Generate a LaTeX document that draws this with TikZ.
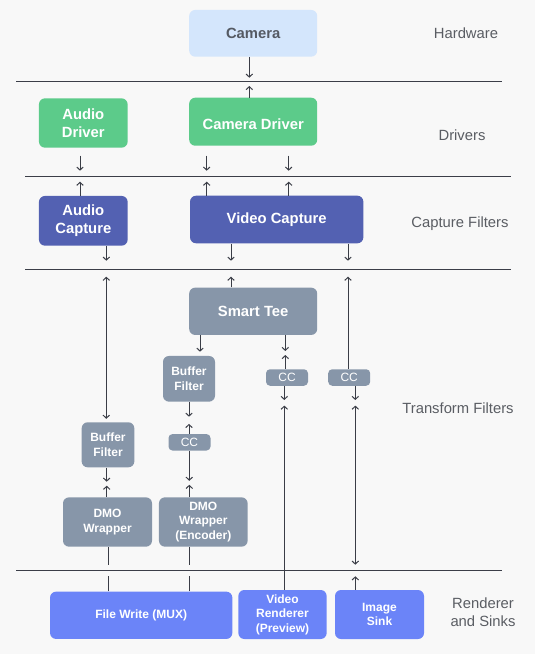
\documentclass[tikz,border=0pt]{standalone}
\usepackage{fontspec}
\setmainfont{Liberation Sans}
\usetikzlibrary{arrows.meta}
\definecolor{bgc}{HTML}{F8F8F8}
\definecolor{camblue}{HTML}{D4E6FC}
\definecolor{camtext}{HTML}{555A63}
\definecolor{drvgreen}{HTML}{5CCB8A}
\definecolor{capblue}{HTML}{5361B2}
\definecolor{filtgray}{HTML}{8796A9}
\definecolor{sinkblue}{HTML}{6B84F8}
\definecolor{labgray}{HTML}{5A5D63}
\definecolor{sepc}{HTML}{3B3E48}
\definecolor{linec}{HTML}{3A3D46}

\begin{document}
\begin{tikzpicture}[
    x=1pt, y=-1pt,
    >={Straight Barb[length=3pt,width=6.5pt]},
    every node/.style={inner sep=0pt, align=center},
    big/.style={rounded corners=6pt, text=white, font=\bfseries\fontsize{14.8}{18}\selectfont},
    small/.style={rounded corners=6pt, text=white, fill=filtgray, font=\bfseries\fontsize{12}{14.5}\selectfont},
    cc/.style={rounded corners=4pt, text=white, fill=filtgray, font=\fontsize{12}{14}\selectfont, minimum width=42pt, minimum height=16.5pt},
    layer/.style={text=labgray, font=\fontsize{14.8}{18}\selectfont},
    sep/.style={line width=1pt, draw=sepc},
    arr/.style={line width=1pt, draw=linec, ->},
    link/.style={line width=0.9pt, draw=linec},
]
    \fill[bgc] (0,0) rectangle (535,654);

    \node[big, fill=camblue, text=camtext, minimum width=128pt, minimum height=46.7pt] (cam) at (253.2,33.3) {Camera};
    \node[big, fill=drvgreen, minimum width=88.7pt, minimum height=49.3pt] (adrv) at (83.3,123) {Audio\\Driver};
    \node[big, fill=drvgreen, minimum width=128pt, minimum height=48pt, text height=16.5pt, text depth=0pt] (cdrv) at (253.2,121.7) {Camera Driver};
    \node[big, fill=capblue, minimum width=88.7pt, minimum height=49.7pt] (acap) at (83.3,220.8) {Audio\\Capture};
    \node[big, fill=capblue, minimum width=173.3pt, minimum height=47.6pt] (vcap) at (276.7,219.5) {Video Capture};
    \node[big, fill=filtgray, minimum width=128pt, minimum height=47.3pt] (tee) at (253.2,311.3) {Smart Tee};
    \node[small, minimum width=52pt, minimum height=45.7pt] (bufm) at (189,378.8) {Buffer\\Filter};
    \node[cc] (ccm) at (287,377.5) {CC};
    \node[cc] (ccr) at (349.2,377.5) {CC};
    \node[small, minimum width=52.7pt, minimum height=45pt] (bufl) at (108,444.8) {Buffer\\Filter};
    \node[cc] (ccl) at (189.5,442.3) {CC};
    \node[small, minimum width=89pt, minimum height=49.3pt] (dmo) at (107.5,522) {DMO\\Wrapper};
    \node[small, minimum width=88.7pt, minimum height=49.3pt] (dmoe) at (203.3,522) {DMO\\Wrapper\\(Encoder)};
    \node[small, fill=sinkblue, minimum width=182.3pt, minimum height=47.3pt] (fw) at (141.2,615.3) {File Write (MUX)};
    \node[small, fill=sinkblue, minimum width=88.3pt, minimum height=49pt] (vr) at (282.5,614.5) {Video\\Renderer\\(Preview)};
    \node[small, fill=sinkblue, minimum width=89pt, minimum height=49pt] (sink) at (379.5,614.5) {Image\\Sink};

    \node[layer] (hw) at (466,33) {Hardware};
    \node[layer] (drv) at (462,135.5) {Drivers};
    \node[layer] (capf) at (460,223.8) {Capture Filters};
    \node[layer] (trf) at (458,408) {Transform Filters};
    \node[layer] (rs) at (483,612) {Renderer\\and Sinks};

    \draw[sep] (16,81) -- (501.7,81);
    \draw[sep] (25,176) -- (511,176);
    \draw[sep] (25,269) -- (511,269);
    \draw[sep] (16,570.3) -- (501.7,570.3);

    \coordinate (c1) at (249.3,81);
    \coordinate (c2) at (80,176);
    \coordinate (c3) at (206.7,176);
    \coordinate (c4) at (288.7,176);
    \coordinate (c5) at (106.3,269);
    \coordinate (c6) at (231,269);
    \coordinate (c7) at (348,269);
    \coordinate (c8) at (108.3,570.3);
    \coordinate (c9) at (189.3,570.3);
    \coordinate (c10) at (355.3,570.3);
    \coordinate (m0) at (200,351.7);
    \coordinate (m1) at (285.3,353);
    \coordinate (m2) at (284.3,402.8);
    \coordinate (m3) at (355.3,402.8);
    \coordinate (m4) at (189,420.3);
    \coordinate (m5) at (106.7,483.7);
    \coordinate (m6) at (189.3,482.8);

    \draw[arr] (cam.south -| c1) -- ([yshift=3.3pt]c1);
    \draw[arr] (cdrv.north -| c1) -- ([yshift=-5pt]c1);
    \draw[arr] ([yshift=20.3pt]c2) -- ([yshift=5.3pt]c2);
    \draw[arr] ([yshift=20.3pt]c3) -- ([yshift=5.3pt]c3);
    \draw[arr] ([yshift=20.3pt]c4) -- ([yshift=5.3pt]c4);
    \draw[arr] (acap.north -| c2) -- ([yshift=-5.7pt]c2);
    \draw[arr] (vcap.north -| c3) -- ([yshift=-5.7pt]c3);
    \draw[arr] (vcap.north -| c4) -- ([yshift=-5.7pt]c4);
    \draw[arr] (acap.south -| c5) -- ([yshift=8.3pt]c5);
    \draw[arr] (vcap.south -| c6) -- ([yshift=8.3pt]c6);
    \draw[arr] (vcap.south -| c7) -- ([yshift=8.3pt]c7);
    \draw[arr, <->, shorten >=3.3pt] ([yshift=-7.7pt]c5) -- (bufl.north -| c5);
    \draw[arr] (tee.north -| c6) -- ([yshift=-7.7pt]c6);
    \draw[arr] (ccr.north -| c7) -- ([yshift=-7.7pt]c7);
    \draw[arr] (tee.south -| m0) -- (m0);
    \draw[arr] (tee.south -| m1) -- ([yshift=2pt]m1);
    \draw[arr] (ccm.north -| m1) -- ([yshift=-2pt]m1);
    \draw[arr] (ccm.south -| m2) -- ([yshift=2.8pt]m2);
    \draw[arr] (vr.north -| m2) -- ([yshift=-2.8pt]m2);
    \draw[arr] (ccr.south -| m3) -- ([yshift=2.8pt]m3);
    \draw[arr, <->] ([yshift=-2.8pt]m3) -- ([yshift=5.6pt]c10);
    \draw[arr] (sink.north -| c10) -- ([yshift=-6pt]c10);
    \draw[arr] (bufm.south -| m4) -- ([yshift=3.6pt]m4);
    \draw[arr] (ccl.north -| m4) -- ([yshift=-3.6pt]m4);
    \draw[arr] (bufl.south -| m5) -- ([yshift=2pt]m5);
    \draw[arr] (dmo.north -| m5) -- ([yshift=-2pt]m5);
    \draw[arr] (ccl.south -| m6) -- ([yshift=2pt]m6);
    \draw[arr] (dmoe.north -| m6) -- ([yshift=-2pt]m6);
    \draw[link] (dmo.south -| c8) -- ([yshift=5.6pt]c8);
    \draw[link] (fw.north -| c8) -- ([yshift=-6pt]c8);
    \draw[link] (dmoe.south -| c9) -- ([yshift=5.6pt]c9);
    \draw[link] (fw.north -| c9) -- ([yshift=-6pt]c9);
\end{tikzpicture}
\end{document}
